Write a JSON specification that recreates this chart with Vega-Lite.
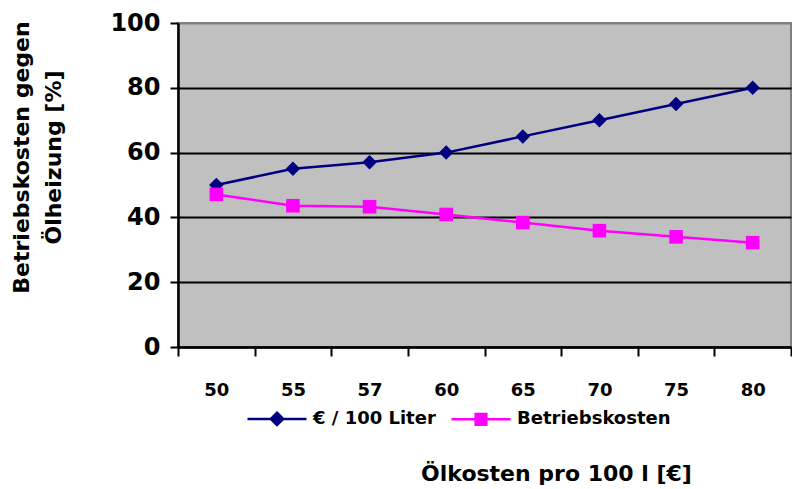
{
  "$schema": "https://vega.github.io/schema/vega-lite/v6.json",
  "autosize": {"type": "none"},
  "padding": {"left": 178, "top": 23, "right": 1, "bottom": 142},
  "width": 613,
  "height": 324,
  "background": "white",
  "data": {
    "values": [
      {"oel": "50", "serie": "€ / 100 Liter", "wert": 50},
      {"oel": "55", "serie": "€ / 100 Liter", "wert": 55},
      {"oel": "57", "serie": "€ / 100 Liter", "wert": 57},
      {"oel": "60", "serie": "€ / 100 Liter", "wert": 60},
      {"oel": "65", "serie": "€ / 100 Liter", "wert": 65},
      {"oel": "70", "serie": "€ / 100 Liter", "wert": 70},
      {"oel": "75", "serie": "€ / 100 Liter", "wert": 75},
      {"oel": "80", "serie": "€ / 100 Liter", "wert": 80},
      {"oel": "50", "serie": "Betriebskosten", "wert": 47.1},
      {"oel": "55", "serie": "Betriebskosten", "wert": 43.6},
      {"oel": "57", "serie": "Betriebskosten", "wert": 43.3},
      {"oel": "60", "serie": "Betriebskosten", "wert": 40.9},
      {"oel": "65", "serie": "Betriebskosten", "wert": 38.4},
      {"oel": "70", "serie": "Betriebskosten", "wert": 35.9},
      {"oel": "75", "serie": "Betriebskosten", "wert": 34.0},
      {"oel": "80", "serie": "Betriebskosten", "wert": 32.2}
    ]
  },
  "encoding": {
    "x": {
      "field": "oel",
      "type": "ordinal",
      "sort": null,
      "bandPosition": 0.5,
      "scale": {"type": "band", "paddingInner": 0, "paddingOuter": 0},
      "axis": {
        "title": "Ölkosten pro 100 l [€]",
        "titleFontSize": 22,
        "titleX": 378,
        "titleY": 133,
        "titleBaseline": "alphabetic",
        "titleAnchor": "middle",
        "labelAngle": 0,
        "labelFontSize": 18,
        "labelBaseline": "middle",
        "labelPadding": 34,
        "tickBand": "extent",
        "tickSize": 9,
        "tickWidth": 2,
        "tickColor": "black",
        "domainColor": "black",
        "domainWidth": 2.5
      }
    },
    "y": {
      "field": "wert",
      "type": "quantitative",
      "scale": {"domain": [0, 100], "nice": false},
      "axis": {
        "title": ["Betriebskosten gegen", "Ölheizung [%]"],
        "titleFontSize": 22,
        "titleLineHeight": 32,
        "titleAngle": -90,
        "titleAlign": "center",
        "titleBaseline": "top",
        "titleX": -167,
        "titleY": 134,
        "values": [0, 20, 40, 60, 80, 100],
        "labelFontSize": 24,
        "labelPadding": 10,
        "tickSize": 8,
        "tickWidth": 2,
        "tickColor": "black",
        "domainColor": "black",
        "domainWidth": 2.5,
        "grid": true,
        "gridWidth": 2,
        "gridColor": {
          "condition": {"test": "datum.value === 100", "value": "#808080"},
          "value": "black"
        }
      }
    },
    "color": {
      "field": "serie",
      "type": "nominal",
      "scale": {
        "domain": ["€ / 100 Liter", "Betriebskosten"],
        "range": ["#000080", "#FF00FF"]
      },
      "legend": {
        "title": null,
        "orient": "none",
        "direction": "horizontal",
        "legendX": 68,
        "legendY": 364.5,
        "padding": 0,
        "symbolSize": 3481,
        "symbolStrokeWidth": 2.5,
        "labelOffset": 5,
        "labelLimit": 0,
        "columnPadding": 10,
        "labelFontSize": 18,
        "labelFont": "DejaVu Sans",
        "labelFontWeight": "bold",
        "labelColor": "black",
        "encode": {
          "symbols": {
            "update": {
              "shape": {
                "signal": "datum.value === 'Betriebskosten' ? 'M-1,0H1M-0.18,-0.18H0.18V0.18H-0.18Z' : 'M-1,0H1M0,-0.21L0.21,0L0,0.21L-0.21,0Z'"
              },
              "fill": {"scale": "color", "field": "value"},
              "stroke": {"scale": "color", "field": "value"},
              "fillOpacity": {"value": 1},
              "opacity": {"value": 1}
            }
          }
        }
      }
    }
  },
  "layer": [
    {
      "mark": {"type": "line", "strokeWidth": 2.5}
    },
    {
      "transform": [{"filter": "datum.serie === '€ / 100 Liter'"}],
      "mark": {"type": "point", "filled": true, "opacity": 1, "shape": "diamond", "size": 210}
    },
    {
      "transform": [{"filter": "datum.serie === 'Betriebskosten'"}],
      "mark": {"type": "point", "filled": true, "opacity": 1, "shape": "square", "size": 185}
    }
  ],
  "config": {
    "font": "DejaVu Sans",
    "view": {"fill": "#C0C0C0", "stroke": "#808080", "strokeWidth": 2},
    "axis": {
      "labelFont": "DejaVu Sans",
      "labelFontWeight": "bold",
      "labelColor": "black",
      "titleFont": "DejaVu Sans",
      "titleFontWeight": "bold",
      "titleColor": "black"
    }
  }
}
